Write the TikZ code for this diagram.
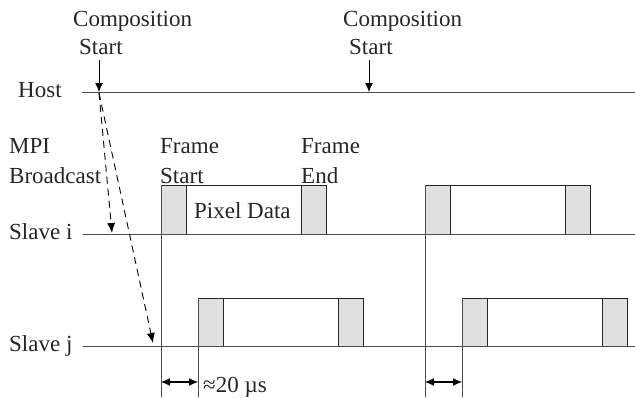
\documentclass[tikz,border=0pt]{standalone}
\usepackage{fontspec}
\setmainfont{Liberation Serif}
\usetikzlibrary{arrows.meta}
\begin{document}
\begin{tikzpicture}[x=1pt,y=-1pt,
  txt/.style={font=\fontsize{23}{27}\selectfont, inner sep=0pt, anchor=base west, text=black!85},
  axis/.style={line width=0.9pt, draw=black!70},
  greybox/.style={fill=black!12, draw=black!85, line width=0.9pt},
  framebox/.style={fill=white, draw=black!85, line width=0.9pt},
  tip/.style={-{Latex[length=9pt,width=8pt]}, line width=0.9pt},
  dtip/.style={{Latex[length=9pt,width=8pt]}-{Latex[length=9pt,width=8pt]}, line width=1.1pt},
  dsh/.style={dash pattern=on 7pt off 5pt, line width=0.9pt, -{Latex[length=10pt,width=8pt]}}]
\useasboundingbox (0,0) rectangle (635,397);

% labels
\node[txt] (cs1a) at (73,26) {Composition};
\node[txt] (cs1b) at (79,54) {Start};
\node[txt] (cs2a) at (343,26) {Composition};
\node[txt] (cs2b) at (349,54) {Start};
\node[txt] (host) at (18,97) {Host};
\node[txt] (mpi) at (9,153) {MPI};
\node[txt] (bc) at (9,183) {Broadcast};
\node[txt] (fs1) at (160,153) {Frame};
\node[txt] (fs2) at (160,183) {Start};
\node[txt] (fe1) at (301,153) {Frame};
\node[txt] (fe2) at (301,183) {End};
\node[txt] (si) at (9,239) {Slave i};
\node[txt] (sj) at (9,351) {Slave j};

% boxes slave i
\draw[framebox] (161,185) rectangle (326,234);
\draw[greybox] (161,185) rectangle (186,234);
\draw[greybox] (301,185) rectangle (326,234);
\draw[framebox] (425,185) rectangle (590,234);
\draw[greybox] (425,185) rectangle (450,234);
\draw[greybox] (565,185) rectangle (590,234);
% boxes slave j
\draw[framebox] (198,298) rectangle (363,346);
\draw[greybox] (198,298) rectangle (223,346);
\draw[greybox] (338,298) rectangle (363,346);
\draw[framebox] (462,298) rectangle (627,346);
\draw[greybox] (462,298) rectangle (487,346);
\draw[greybox] (602,298) rectangle (627,346);

\node[txt] (pd) at (194,218) {Pixel Data};
\node[txt] (dt) at (203,392) {≈20 µs};

% time lines
\coordinate (h0) at (82,92);  \coordinate (h1) at (635,92);
\coordinate (i0) at (83,234); \coordinate (i1) at (635,234);
\coordinate (j0) at (83,346); \coordinate (j1) at (635,346);
\draw[axis] (h0) -- (h1);
\draw[axis] (i0) -- (i1);
\draw[axis] (j0) -- (j1);

% vertical markers
\coordinate (v1t) at (161,185); \coordinate (v1b) at (161,397);
\coordinate (v2t) at (198,298); \coordinate (v2b) at (198,397);
\coordinate (v3t) at (425,185); \coordinate (v3b) at (425,397);
\coordinate (v4t) at (462,298); \coordinate (v4b) at (462,397);
\draw[axis] (v1t) -- (v1b);
\draw[axis] (v2t) -- (v2b);
\draw[axis] (v3t) -- (v3b);
\draw[axis] (v4t) -- (v4b);

% composition start arrows
\coordinate (a1t) at (99,60); \coordinate (a1b) at (99,92);
\coordinate (a2t) at (369,60); \coordinate (a2b) at (369,92);
\draw[tip] (a1t) -- (a1b);
\draw[tip] (a2t) -- (a2b);

% MPI broadcast
\coordinate (bs) at (99,93);
\coordinate (bi) at (112,233);
\coordinate (bj) at (153,343);
\draw[dsh] (bs) -- (bi);
\draw[dsh] (bs) -- (bj);

% delays
\coordinate (d1a) at (161,382); \coordinate (d1b) at (198,382);
\coordinate (d2a) at (425,382); \coordinate (d2b) at (462,382);
\draw[dtip] (d1a) -- (d1b);
\draw[dtip] (d2a) -- (d2b);
\end{tikzpicture}
\end{document}
